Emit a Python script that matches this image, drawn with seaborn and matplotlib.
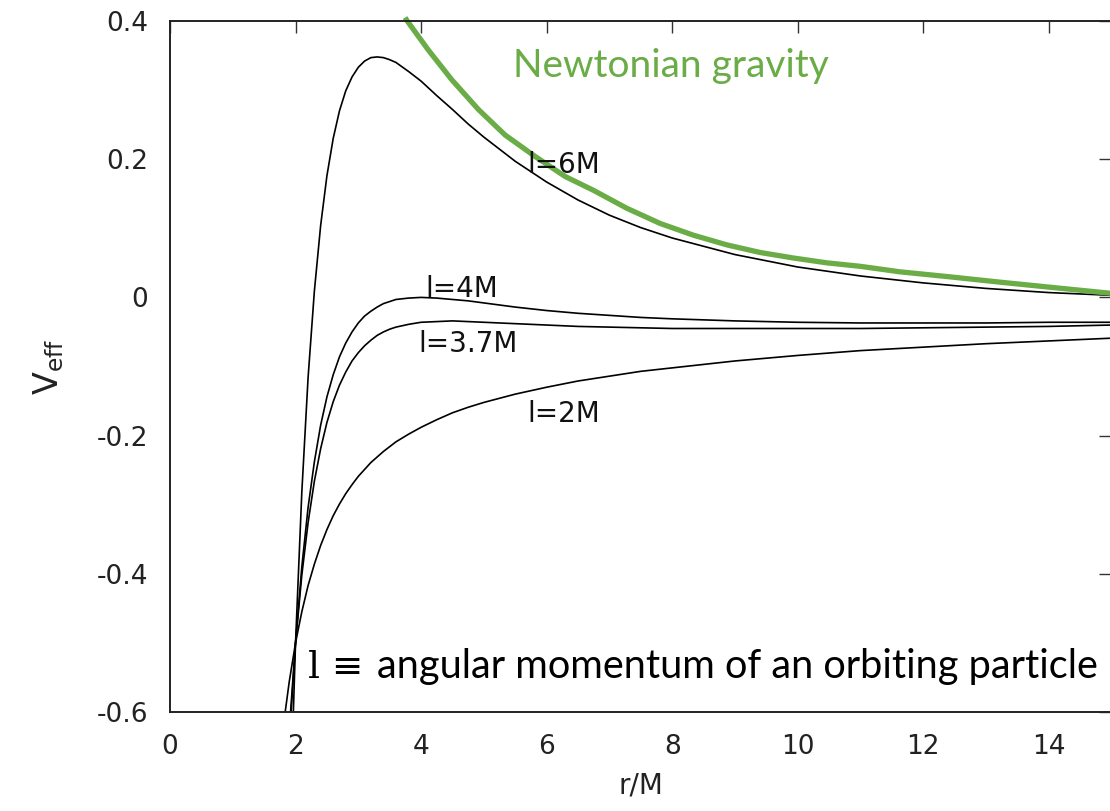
import matplotlib
matplotlib.use("Agg")
import matplotlib.pyplot as plt
import seaborn as sns
import pandas as pd

# ---------------- data ----------------
r_grid = [1.8, 1.9, 2.0, 2.1, 2.2, 2.3, 2.4, 2.5, 2.6, 2.7, 2.8, 2.9, 3.0, 3.1,
          3.2, 3.3, 3.4, 3.5, 3.6, 3.8, 4.0, 4.25, 4.5, 4.75, 5.0, 5.5, 6.0, 6.5,
          7.0, 7.5, 8.0, 9.0, 10.0, 11.0, 12.0, 13.0, 14.0, 15.0]

v_l6 = [-1.170, -0.789, -0.500, -0.282, -0.116, 0.009, 0.104, 0.176, 0.230, 0.270,
        0.299, 0.319, 0.333, 0.342, 0.347, 0.348, 0.347, 0.344, 0.340, 0.327,
        0.313, 0.292, 0.272, 0.251, 0.232, 0.197, 0.167, 0.141, 0.119, 0.101,
        0.086, 0.062, 0.044, 0.031, 0.021, 0.013, 0.007, 0.003]

v_l4 = [-0.830, -0.643, -0.500, -0.390, -0.304, -0.238, -0.185, -0.144, -0.112, -0.086,
        -0.066, -0.050, -0.037, -0.027, -0.020, -0.014, -0.009, -0.006, -0.003, -0.001,
        0.000, -0.001, -0.003, -0.005, -0.008, -0.014, -0.019, -0.023, -0.026, -0.029,
        -0.031, -0.034, -0.036, -0.037, -0.037, -0.037, -0.036, -0.036]

v_l37 = [-0.790, -0.626, -0.500, -0.402, -0.326, -0.266, -0.219, -0.181, -0.151, -0.127,
         -0.108, -0.092, -0.080, -0.070, -0.062, -0.055, -0.050, -0.046, -0.043, -0.039,
         -0.036, -0.035, -0.034, -0.035, -0.036, -0.038, -0.040, -0.042, -0.043, -0.044,
         -0.045, -0.045, -0.045, -0.045, -0.044, -0.043, -0.042, -0.040]

v_l2 = [-0.624, -0.556, -0.500, -0.455, -0.417, -0.386, -0.359, -0.336, -0.316, -0.299,
        -0.284, -0.271, -0.259, -0.249, -0.239, -0.231, -0.223, -0.216, -0.209, -0.198,
        -0.188, -0.177, -0.167, -0.159, -0.152, -0.140, -0.130, -0.121, -0.114, -0.107,
        -0.102, -0.092, -0.084, -0.077, -0.072, -0.067, -0.063, -0.059]

curve_names = ["l=6M", "l=4M", "l=3.7M", "l=2M"]

newton_r = [3.745, 3.772, 4.116, 4.489, 4.913, 5.339, 5.817, 6.295, 6.746, 7.278, 7.809,
            8.340, 8.872, 9.402, 9.933, 10.465, 10.996, 11.63, 12.40, 13.23, 14.10, 14.98]
newton_v = [0.405, 0.401, 0.358, 0.315, 0.272, 0.235, 0.204, 0.175, 0.155, 0.129, 0.107,
            0.090, 0.076, 0.065, 0.057, 0.050, 0.045, 0.037, 0.030, 0.022, 0.014, 0.006]

x_ticks = [0, 2, 4, 6, 8, 10, 12, 14]
y_ticks = [-0.6, -0.4, -0.2, 0.0, 0.2, 0.4]
y_tick_labels = ["-0.6", "-0.4", "-0.2", "0", "0.2", "0.4"]

# ---------------- figure ----------------
sns.set_theme(style="white")
plt.rcParams["font.family"] = ["DejaVu Sans"]

W, H = 1110, 811
fig = plt.figure(figsize=(W / 100, H / 100), dpi=100)
ax = fig.add_axes([170 / W, (H - 712) / H, (1111.5 - 170) / W, (712 - 21) / H])

rows = []
for name, vals in zip(curve_names, [v_l6, v_l4, v_l37, v_l2]):
    for r, v in zip(r_grid, vals):
        rows.append({"r": r, "V": v, "curve": name})
df = pd.DataFrame(rows)

sns.lineplot(data=df, x="r", y="V", units="curve", estimator=None, color="black",
             lw=1.2, ax=ax, sort=True)

green = "#6aac46"
sns.lineplot(x=newton_r, y=newton_v, color=green, lw=3.8, ax=ax, clip_on=False,
             estimator=None, sort=False)
ax.lines[-1].set_solid_joinstyle("round")
ax.lines[-1].set_solid_capstyle("butt")

ax.set_xlim(0, 15)
ax.set_ylim(-0.6, 0.4)
ax.set_xticks(x_ticks)
ax.set_xticklabels([str(t) for t in x_ticks])
ax.set_yticks(y_ticks)
ax.set_yticklabels(y_tick_labels)
ax.tick_params(direction="in", length=8.5, width=1.0, color="#333333",
               top=True, right=True, labelsize=19, labelcolor="#222222", pad=16)
for s in ax.spines.values():
    s.set_linewidth(1.4)
    s.set_color("#222222")

ax.set_xlabel("r/M", fontsize=20, color="#222222", labelpad=8)
ax.set_ylabel(r"$\mathregular{V_{eff}}$", fontsize=24, color="#222222", labelpad=22)

# curve labels
def px(x, y):
    return x / W, 1 - y / H

label_pos = {"l=6M": (527, 173), "l=4M": (425, 297), "l=3.7M": (418, 352), "l=2M": (527, 422)}
for name in curve_names:
    fx, fy = px(*label_pos[name])
    fig.text(fx, fy, name, fontsize=20, color="#111111", ha="left", va="baseline")

fx, fy = px(513, 77)
fig.text(fx, fy, "Newtonian gravity", fontsize=28, color=green, family=["Lato", "DejaVu Sans"],
         ha="left", va="baseline")

fx, fy = px(308, 678)
fig.text(fx, fy, "l \u2261", fontsize=27, color="black", family=["DejaVu Serif"],
         ha="left", va="baseline")
fx, fy = px(377, 678)
fig.text(fx, fy, "angular momentum of an orbiting particle", fontsize=28.6, color="black",
         family=["Lato", "DejaVu Sans"], ha="left", va="baseline")

fig.savefig("out.png", dpi=100)
